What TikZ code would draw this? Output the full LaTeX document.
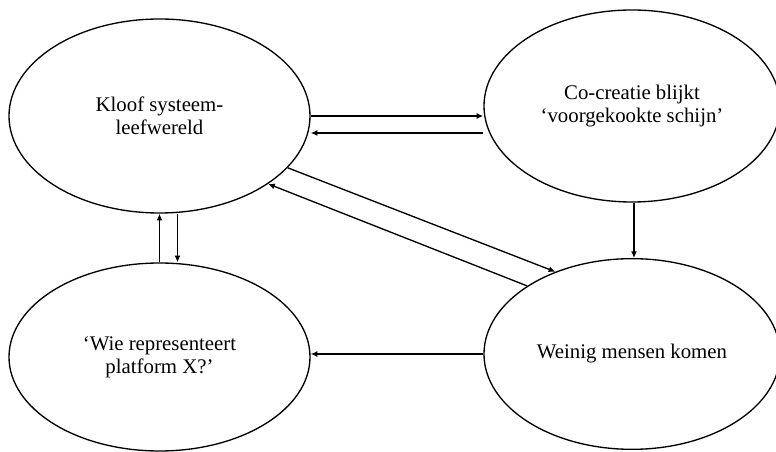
\documentclass[tikz,border=0pt]{standalone}
\usepackage{fontspec}
\setmainfont{Liberation Serif}
\usetikzlibrary{shapes.geometric,arrows.meta,calc}
\begin{document}
\begin{tikzpicture}[x=0.75pt,y=-0.75pt]

\useasboundingbox (0,0) rectangle (776,452);

%%% Styles

\tikzstyle{bubble}=[ellipse, draw, line width=1pt, inner sep=0pt, align=center,
                    font=\fontsize{15.6}{17.5}\selectfont]
\tikzstyle{arr}=[-{Latex[length=5pt,width=4.5pt]}, line width=1pt]

%%% Bubbles

\node (kloof) [bubble, minimum width=225.75pt, minimum height=145.5pt]
      at (159.5,116) {Kloof systeem-\\leefwereld};

\node (cocreatie) [bubble, minimum width=222pt, minimum height=144pt]
      at (632,106) {Co-creatie blijkt\\‘voorgekookte schijn’};

\node (wie) [bubble, minimum width=225.75pt, minimum height=141pt]
      at (159.5,357) {‘Wie representeert\\platform X?’};

\node (weinig) [bubble, minimum width=222pt, minimum height=143pt]
      at (632,354) {Weinig mensen komen};

% Top pair

\draw [arr] (kloof.east) -- (kloof.east -| cocreatie.west);

\draw [arr] ($(cocreatie.west)+(0,27)$) -- ($(kloof.east)+(0,17)$);

% Diagonal pair

\draw [arr] (kloof.-22) -- (weinig.133);

\draw [arr] (weinig.147) -- (kloof.-32);

% Right side

\draw [arr] ($(cocreatie.south)+(2,0)$) -- ($(weinig.north)+(2,0)$);

% Bottom

\draw [arr] (weinig.west) -- (weinig.west -| wie.east);

% Left pair

\draw [arr] (wie.north) -- (kloof.south);

\draw [arr] ($(kloof.south)+(18,0)$) -- ($(wie.north)+(18,0)$);

\end{tikzpicture}
\end{document}
